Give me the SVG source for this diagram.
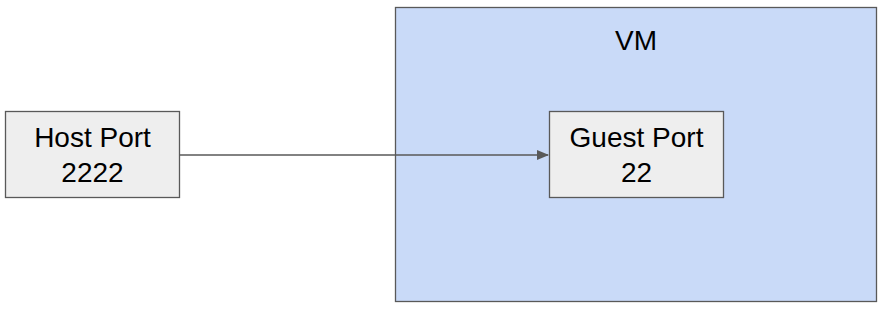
<svg xmlns="http://www.w3.org/2000/svg" width="888" height="314" viewBox="0 0 888 314">
<style>
.box{fill:#eeeeee;stroke:#595959;stroke-width:1.3}
.vm{fill:#c9daf8;stroke:#595959;stroke-width:1.3}
.t{font-family:"Liberation Sans",Arial,sans-serif;font-size:28px;fill:#000;text-anchor:middle}
.conn{stroke:#595959;stroke-width:1.3;fill:none}
</style>
<defs>
<marker id="ah" markerWidth="12" markerHeight="10" refX="11" refY="5" orient="auto" markerUnits="userSpaceOnUse">
<path d="M0,0 L12,5 L0,10 Z" fill="#595959"/>
</marker>
</defs>
<rect width="888" height="314" fill="#ffffff"/>
<g id="vm">
<rect class="vm" x="395.5" y="7.5" width="481" height="294"/>
<text class="t" x="636" y="50">VM</text>
</g>
<g id="host">
<rect class="box" x="5.5" y="111.5" width="174" height="86"/>
<text class="t" x="92.5" y="147">Host Port</text>
<text class="t" x="92.5" y="182">2222</text>
</g>
<g id="guest">
<rect class="box" x="549.5" y="111.5" width="174" height="86"/>
<text class="t" x="636.5" y="147">Guest Port</text>
<text class="t" x="636.5" y="182">22</text>
</g>
<g id="connectors">
<line class="conn" x1="179.5" y1="155" x2="548" y2="155" marker-end="url(#ah)"/>
</g>
</svg>
